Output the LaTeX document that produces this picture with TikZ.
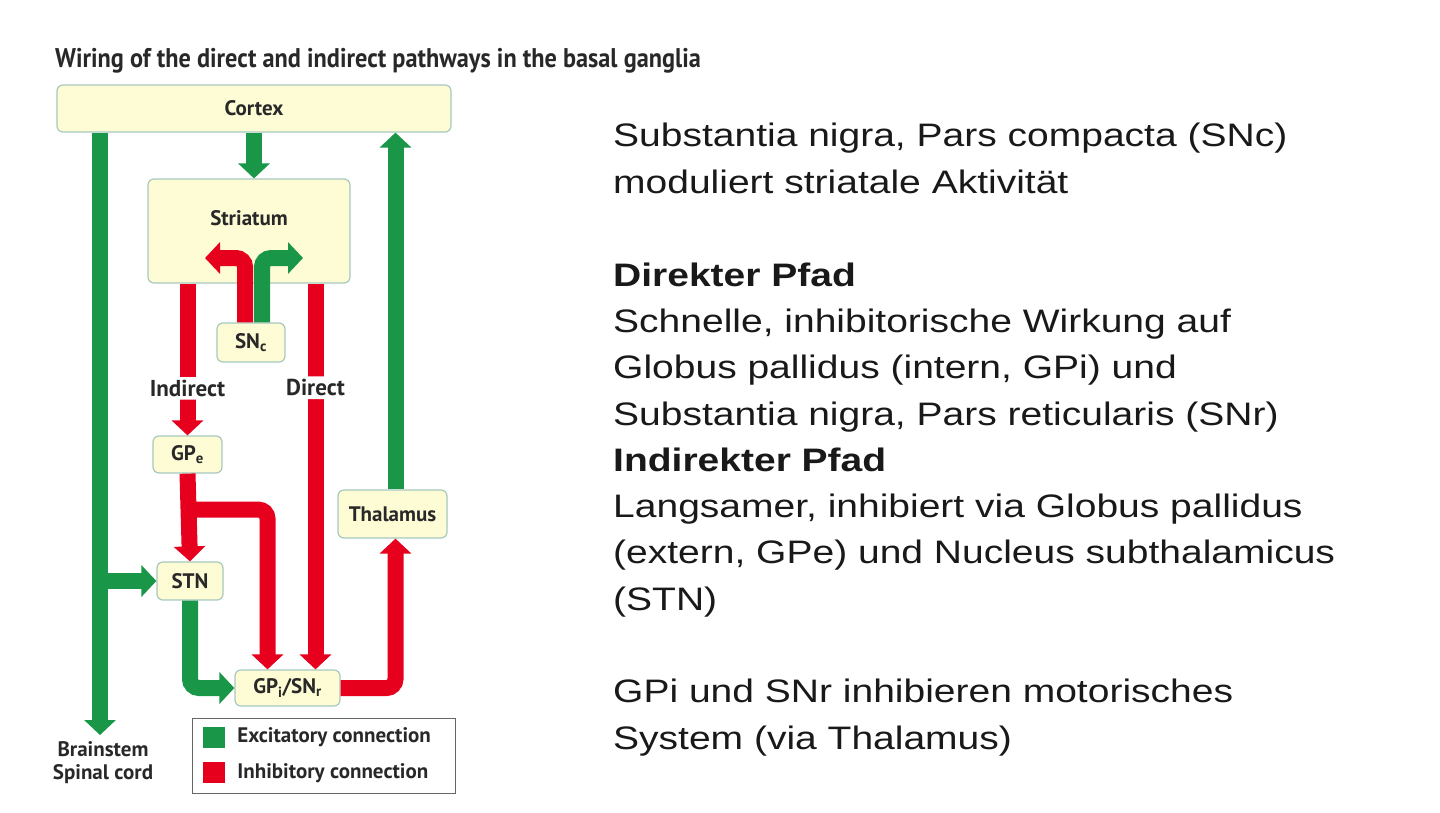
\documentclass[tikz,border=0pt]{standalone}
\usepackage{fontspec}
\usepackage{xcolor}
\usepackage{tikz}
\usetikzlibrary{arrows.meta, positioning, calc}
\newfontfamily\bodyfont{Liberation Sans}[FakeStretch=1.2]
\newfontfamily\labelfont{PT Sans}
\newfontfamily\titlefont{PT Sans}[FakeStretch=0.9]
\definecolor{excgreen}{RGB}{26,150,72}
\definecolor{inhred}{RGB}{230,0,30}
\definecolor{regionfill}{RGB}{253,252,213}
\definecolor{regionline}{RGB}{168,200,190}
\definecolor{labelgray}{RGB}{40,40,40}
\tikzset{
  region/.style={draw=regionline, fill=regionfill, line width=1.2pt, rounded corners=6pt,
    inner sep=0pt, text=labelgray, font=\labelfont\bfseries\fontsize{21}{23}\selectfont},
  excitatory/.style={draw=excgreen, line width=16pt, rounded corners=9pt,
    -{Triangle[length=15pt,width=31pt]}},
  inhibitory/.style={draw=inhred, line width=16pt, rounded corners=9pt,
    -{Triangle[length=15pt,width=31pt]}},
  pathlabel/.style={fill=white, inner sep=3pt, text=labelgray,
    font=\labelfont\bfseries\fontsize{23}{25}\selectfont},
  keytext/.style={inner sep=0pt, text=labelgray, font=\labelfont\bfseries\fontsize{21}{23}\selectfont},
  prose/.style={anchor=base west, align=left, inner sep=0pt, text=black!90,
    font=\bodyfont\fontsize{32.5}{46.3}\selectfont}
}
\begin{document}
\begin{tikzpicture}[x=1pt, y=-1pt]
\useasboundingbox (0,0) rectangle (1440,812);
\node[anchor=base west, inner sep=0pt, text=labelgray, font=\titlefont\bfseries\fontsize{27}{29}\selectfont](title) at (55,67){Wiring of the direct and indirect pathways in the basal ganglia};

%regions
\node[region, minimum width=394pt, minimum height=47pt](cortex) at (254,108.5){Cortex};
\node[region, minimum width=202pt, minimum height=104pt,
  label={[name=striatumtext, anchor=center, yshift=-40pt, text=labelgray, font=\labelfont\bfseries\fontsize{21}{23}\selectfont]north:Striatum}](striatum) at (249,231){};
\node[region, minimum width=68pt, minimum height=39pt](snc) at (251,342.5){SN\textsubscript{c}};
\node[region, minimum width=69pt, minimum height=37pt](gpe) at (187.5,454.5){GP\textsubscript{e}};
\node[region, minimum width=66pt, minimum height=38pt](stn) at (190,581){STN};
\node[region, minimum width=105pt, minimum height=36pt](gpi) at (287.5,688){GP\textsubscript{i}/SN\textsubscript{r}};
\node[region, minimum width=109pt, minimum height=48pt](thalamus) at (392.5,514){Thalamus};
\node[keytext, align=center, font=\labelfont\bfseries\fontsize{21}{23}\selectfont](brainstem) at (103,763){Brainstem\\Spinal cord};

%legend
\node[draw=black!60, line width=1pt, minimum width=263pt, minimum height=75pt](legend) at (323.5,755.5){};
\node[fill=excgreen, minimum width=22pt, minimum height=21pt, inner sep=0pt](exckey) at (214,737.5){};
\node[fill=inhred, minimum width=22pt, minimum height=21pt, inner sep=0pt, below = 14pt of exckey](inhkey){};
\node[keytext, right = 12pt of exckey](exctext){Excitatory connection};
\node[keytext, right = 12pt of inhkey](inhtext){Inhibitory connection};

\coordinate (spine) at (100,735);
\coordinate (redtip) at (205,258);
\coordinate (greentip) at (303,258);
\coordinate (directin) at ($(gpi.north)+(28,0)$);
\coordinate (branchin) at ($(gpi.north)+(-20,0)$);
\coordinate (thalout) at ($(thalamus.north)+(3,0)$);
\coordinate (thalin) at ($(thalamus.south)+(3,0)$);

%excitatory lines
\draw[excitatory](cortex.south) -- (cortex.south |- striatum.north);
\draw[excitatory](cortex.south -| spine) -- (spine);
\draw[excitatory](spine |- stn.west) -- (stn.west);
\draw[excitatory](stn.south) |- (gpi.west);
\draw[excitatory](thalout) -- (thalout |- cortex.south);
\draw[excitatory]($(snc.north)+(11,0)$) |- (greentip);

%inhibitory lines
\draw[inhibitory]($(snc.north)+(-6,0)$) |- (redtip);
\draw[inhibitory](striatum.south -| gpe.north) -- node[pathlabel, pos=0.69](indirect){Indirect} (gpe.north);
\draw[inhibitory](striatum.south -| directin) -- node[pathlabel, pos=0.27](direct){Direct} (directin);
\draw[inhibitory](gpe.south) -- (stn.north);
\draw[inhibitory]($(gpe.south)+(0,36)$) -| (branchin);
\draw[inhibitory](gpi.east) -| (thalin);

%text
\node[prose](sncnote) at (613,193){Substantia nigra, Pars compacta (SNc)\\moduliert striatale Aktivität};
\node[prose](directnote) at (613,425){\textbf{Direkter Pfad}\\Schnelle, inhibitorische Wirkung auf\\Globus pallidus (intern, GPi) und\\Substantia nigra, Pars reticularis (SNr)};
\node[prose](indirectnote) at (613,610){\textbf{Indirekter Pfad}\\Langsamer, inhibiert via Globus pallidus\\(extern, GPe) und Nucleus subthalamicus\\(STN)};
\node[prose](gpinote) at (613,749){GPi und SNr inhibieren motorisches\\System (via Thalamus)};
\end{tikzpicture}
\end{document}
